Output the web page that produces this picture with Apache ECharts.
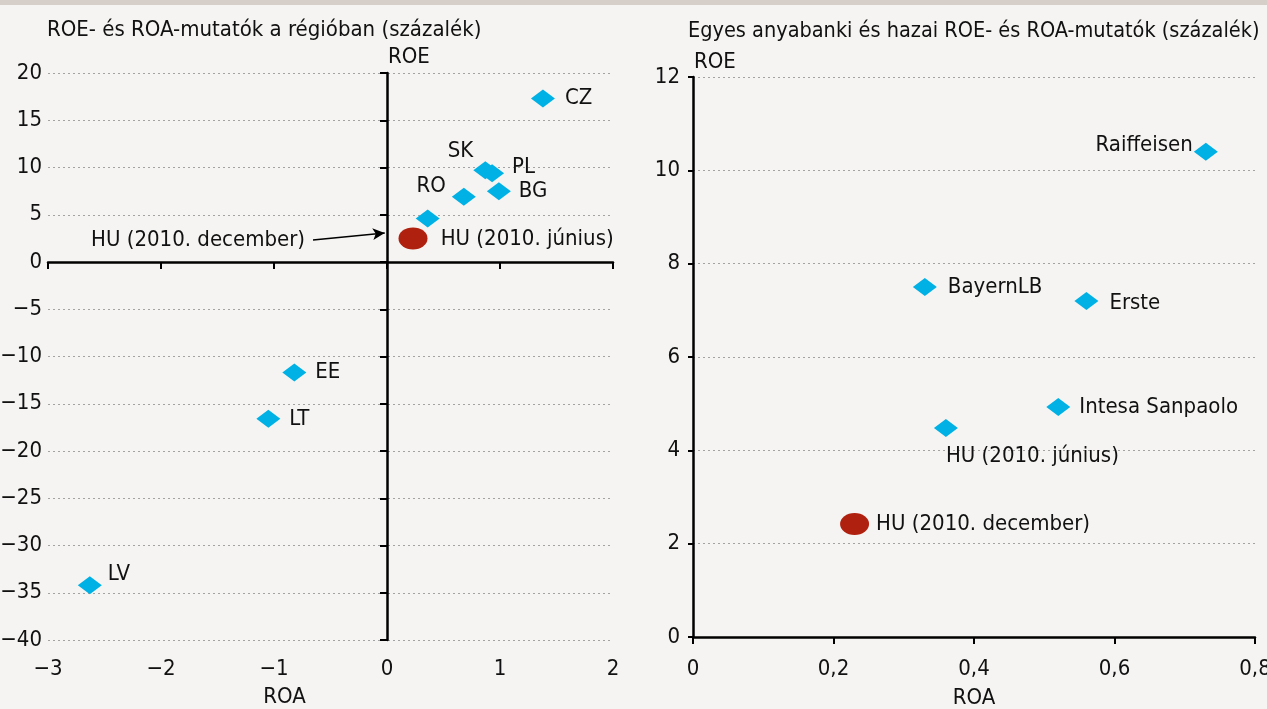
<!DOCTYPE html>
<html><head><meta charset="utf-8">
<script src="https://cdn.jsdelivr.net/npm/echarts@6/dist/echarts.min.js"></script>
<style>html,body{margin:0;padding:0;background:#f5f4f2}#c{width:1267px;height:709px}</style>
</head><body><div id="c"></div>
<script>
// ---------- data: left panel (region) ----------
const regionNames = ['CZ', 'SK', 'PL', 'BG', 'RO', 'HU (2010. június)', 'EE', 'LT', 'LV'];
const regionROA   = [1.38, 0.87, 0.93, 0.99, 0.68, 0.36, -0.82, -1.05, -2.63];
const regionROE   = [17.3, 9.7, 9.4, 7.5, 6.9, 4.6, -11.7, -16.6, -34.2];
const regionHuDecName = 'HU (2010. december)';
const regionHuDecROA = [0.23];
const regionHuDecROE = [2.5];
const regionArrowFrom = [-0.655, 2.33];
const regionArrowTo   = [-0.02, 3.07];
// ---------- data: right panel (parent banks) ----------
const bankNames = ['Raiffeisen', 'BayernLB', 'Erste', 'Intesa Sanpaolo', 'HU (2010. június)'];
const bankROA   = [0.73, 0.33, 0.56, 0.52, 0.36];
const bankROE   = [10.4, 7.5, 7.2, 4.93, 4.48];
const bankHuDecName = 'HU (2010. december)';
const bankHuDecROA = [0.23];
const bankHuDecROE = [2.42];
// ---------- axis ranges / texts ----------
const titleLeft = 'ROE- és ROA-mutatók a régióban (százalék)';
const titleRight = 'Egyes anyabanki és hazai ROE- és ROA-mutatók (százalék)';
const leftX = {min: -3, max: 2, interval: 1};
const leftY = {min: -40, max: 20, interval: 5};
const rightX = {min: 0, max: 0.8, interval: 0.2};
const rightY = {min: 0, max: 12, interval: 2};

// ---------- styles ----------
const FONT = '"DejaVu Sans Condensed","DejaVu Sans",sans-serif';
const TXT = '#111111';
const BLUE = '#00b1e6';
const RED = '#b0200f';
const FS = 22;
const ELLIPSE = 'path://M0,10A10,10,0,1,1,20,10A10,10,0,1,1,0,10Z';
const regionLabel = {
  'CZ': {position: 'right', distance: 10},
  'SK': {position: 'left', distance: 0, offset: [0, -19]},
  'PL': {position: 'right', distance: 8, offset: [0, -6]},
  'BG': {position: 'right', distance: 8},
  'RO': {position: 'left', distance: 6, offset: [0, -11]},
  'HU (2010. június)': {position: 'right', distance: 1, offset: [0, 21]},
  'EE': {position: 'right', distance: 9},
  'LT': {position: 'right', distance: 9},
  'LV': {position: 'right', distance: 6, offset: [0, -11]}
};
const bankLabel = {
  'Raiffeisen': {position: 'left', distance: 1, offset: [0, -6]},
  'BayernLB': {position: 'right', distance: 11},
  'Erste': {position: 'right', distance: 11, offset: [0, 2]},
  'Intesa Sanpaolo': {position: 'right', distance: 9},
  'HU (2010. június)': {position: 'bottom', align: 'left', distance: 8}
};
const minus = v => String(v).replace('-', '\u2212');
const comma = v => v === 0 ? '0' : String(+v.toFixed(1)).replace('.', ',');
const dotted = {type: [2, 3], color: '#a3a3a3', width: 1};
const blackLine = {color: '#000', width: 2.5};
const tickLine = {color: '#000', width: 2};

function pts(names, xs, ys, lab) {
  return names.map((n, i) => ({name: n, value: [xs[i], ys[i]], label: lab[n]}));
}
const markerLabel = {show: true, formatter: p => p.name, fontSize: FS, color: TXT, fontFamily: FONT};

const chart = echarts.init(document.getElementById('c'), null, {renderer: 'canvas'});
chart.setOption({
  backgroundColor: '#f5f4f2',
  animation: false,
  textStyle: {fontFamily: FONT, color: TXT},
  graphic: [{type: 'rect', shape: {x: 0, y: 0, width: 1267, height: 5}, style: {fill: '#d5cec9'}}],
  title: [
    {text: titleLeft, left: 42, top: 14, textStyle: {fontSize: FS, fontWeight: 'normal', color: TXT, fontFamily: FONT}},
    {text: titleRight, left: 683, top: 15, textStyle: {fontSize: 21.5, fontWeight: 'normal', color: TXT, fontFamily: FONT}}
  ],
  grid: [
    {left: 48, right: 654, top: 73, bottom: 69, containLabel: false, outerBoundsMode: 'none'},
    {left: 693, right: 12, top: 77, bottom: 72, containLabel: false, outerBoundsMode: 'none'}
  ],
  xAxis: [
    { // left: zero line
      type: 'value', gridIndex: 0, position: 'bottom', ...leftX,
      axisLine: {show: true, onZero: true, onZeroAxisIndex: 0, lineStyle: blackLine},
      axisTick: {show: true, length: 7, lineStyle: tickLine},
      axisLabel: {show: false}, splitLine: {show: false}
    },
    { // left: labels at bottom
      type: 'value', gridIndex: 0, position: 'bottom', ...leftX,
      axisLine: {show: false, onZero: false}, axisTick: {show: false}, splitLine: {show: false},
      axisLabel: {show: true, margin: 18, fontSize: FS, color: TXT, fontFamily: FONT, formatter: minus},
      name: 'ROA', nameLocation: 'middle', nameGap: 46,
      nameTextStyle: {fontSize: FS, color: TXT, fontFamily: FONT, padding: [0, 92, 0, 0]}
    },
    { // right
      type: 'value', gridIndex: 1, position: 'bottom', ...rightX,
      axisLine: {show: true, onZero: false, lineStyle: blackLine},
      axisTick: {show: true, length: 7, lineStyle: tickLine},
      splitLine: {show: false},
      axisLabel: {show: true, margin: 21, fontSize: FS, color: TXT, fontFamily: FONT, formatter: comma},
      name: 'ROA', nameLocation: 'middle', nameGap: 50,
      nameTextStyle: {fontSize: FS, color: TXT, fontFamily: FONT}
    }
  ],
  yAxis: [
    { // left: zero line
      type: 'value', gridIndex: 0, position: 'left', ...leftY,
      axisLine: {show: true, onZero: true, onZeroAxisIndex: 0, lineStyle: blackLine},
      axisTick: {show: true, length: 7, lineStyle: tickLine},
      axisLabel: {show: false}, splitLine: {show: false},
      name: 'ROE', nameLocation: 'end', nameGap: 5,
      nameTextStyle: {fontSize: FS, color: TXT, fontFamily: FONT, align: 'left', padding: [0, 0, 0, 1]}
    },
    { // left: labels + grid
      type: 'value', gridIndex: 0, position: 'left', ...leftY,
      axisLine: {show: false, onZero: false}, axisTick: {show: false},
      axisLabel: {show: true, margin: 6, fontSize: FS, color: TXT, fontFamily: FONT, formatter: minus},
      splitLine: {show: true, lineStyle: dotted}
    },
    { // right
      type: 'value', gridIndex: 1, position: 'left', ...rightY,
      axisLine: {show: true, onZero: false, lineStyle: blackLine},
      axisTick: {show: true, length: 5, lineStyle: tickLine},
      axisLabel: {show: true, margin: 13, fontSize: FS, color: TXT, fontFamily: FONT},
      splitLine: {show: true, lineStyle: dotted},
      name: 'ROE', nameLocation: 'end', nameGap: 4,
      nameTextStyle: {fontSize: FS, color: TXT, fontFamily: FONT, align: 'left', padding: [0, 0, 0, 1]}
    }
  ],
  series: [
    {
      type: 'scatter', xAxisIndex: 0, yAxisIndex: 0, z: 3,
      symbol: 'diamond', symbolSize: [24, 18], itemStyle: {color: BLUE, opacity: 1},
      label: markerLabel,
      data: pts(regionNames, regionROA, regionROE, regionLabel)
    },
    {
      type: 'scatter', xAxisIndex: 0, yAxisIndex: 0, z: 3,
      symbol: ELLIPSE, symbolSize: [29, 22], itemStyle: {color: RED, opacity: 1},
      data: regionHuDecROA.map((x, i) => ({name: regionHuDecName, value: [x, regionHuDecROE[i]]})),
      markLine: {
        silent: true, animation: false,
        symbol: ['none', 'arrow'], symbolSize: [9, 12],
        lineStyle: {color: '#000', width: 1.5, type: 'solid', opacity: 1},
        label: {show: true, position: 'start', distance: 8, formatter: regionHuDecName,
                fontSize: FS, color: TXT, fontFamily: FONT},
        data: [[{coord: regionArrowFrom}, {coord: regionArrowTo}]]
      }
    },
    {
      type: 'scatter', xAxisIndex: 2, yAxisIndex: 2, z: 3,
      symbol: 'diamond', symbolSize: [24, 18], itemStyle: {color: BLUE, opacity: 1},
      label: markerLabel,
      data: pts(bankNames, bankROA, bankROE, bankLabel)
    },
    {
      type: 'scatter', xAxisIndex: 2, yAxisIndex: 2, z: 3,
      symbol: ELLIPSE, symbolSize: [29, 22], itemStyle: {color: RED, opacity: 1},
      label: Object.assign({}, markerLabel, {position: 'right', distance: 7}),
      data: bankHuDecROA.map((x, i) => ({name: bankHuDecName, value: [x, bankHuDecROE[i]]}))
    }
  ]
});
</script></body></html>
